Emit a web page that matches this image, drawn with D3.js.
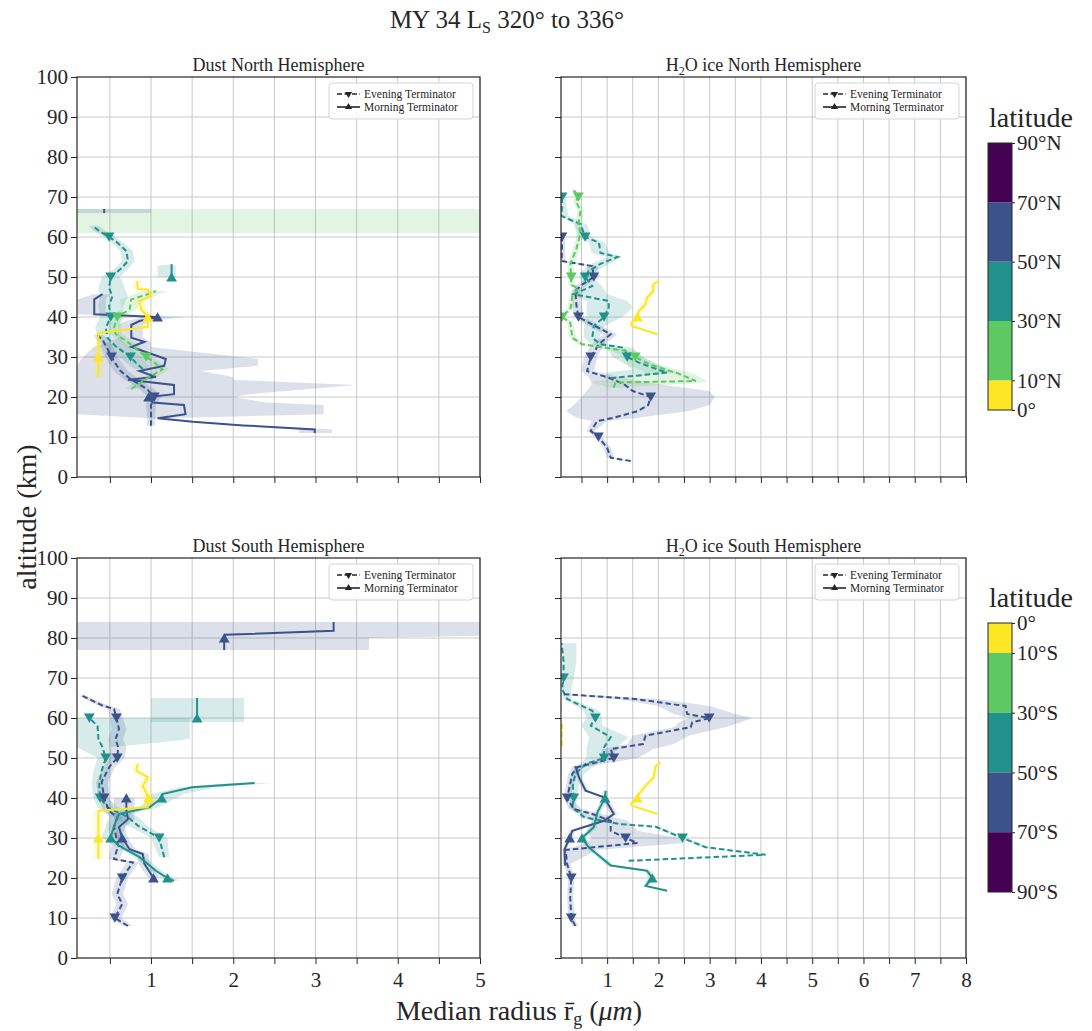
<!DOCTYPE html>
<html><head><meta charset="utf-8">
<script src="https://cdn.jsdelivr.net/npm/d3@7"></script>
<style>body{margin:0;background:#fff} svg text{font-family:'Liberation Serif','DejaVu Serif',serif}</style>
</head><body>
<svg id="fig" width="1092" height="1031"></svg>
<script>
// Latitude bins shared by both hemispheres (degrees from the equator) and their colours
const latEdges = [0, 10, 30, 50, 70, 90];
const latColors = ["#fde725", "#5ec962", "#21918c", "#3b528b", "#440154"];
const latLabelsN = ["0°", "10°N", "30°N", "50°N", "70°N", "90°N"];
const latLabelsS = ["0°", "10°S", "30°S", "50°S", "70°S", "90°S"];
const altTicks = [0, 10, 20, 30, 40, 50, 60, 70, 80, 90, 100];
const dustTicks = [1, 2, 3, 4, 5];
const iceTicks = [1, 2, 3, 4, 5, 6, 7, 8];

// Profiles: rows of [altitude km, median radius, lower bound, upper bound]
// ---- Dust, northern hemisphere ----
const dnYellowMorn = [[25,0.35,0.30,0.42],[27,0.36,0.31,0.42],[30,0.36,0.31,0.42],[33,0.36,0.32,0.40],[36,0.36,0.32,0.40],[37.5,0.96,0.90,1.02],[40,0.96,0.90,1.05],[42,0.88,0.82,0.95],[44,0.86,0.80,0.92],[45.2,1.00,0.94,1.06],[46.9,0.96,0.90,1.02],[47,0.84,0.78,0.90],[49,0.83,0.78,0.88]];
const dnGreenEve = [[22,0.76,0.68,0.85],[24.8,0.96,0.88,1.05],[26.9,1.14,1.05,1.22],[29,1.02,0.94,1.10],[30,0.94,0.86,1.02],[32,0.82,0.74,0.90],[34,0.70,0.62,0.78],[35.7,0.57,0.50,0.65],[37.3,0.55,0.48,0.63],[40,0.59,0.50,0.68],[41.9,0.74,0.64,0.82],[44.4,0.76,0.62,0.90],[45.7,0.96,0.80,1.10],[46.5,1.06,0.90,1.20]];
const dnGreenMorn = [[61,6.5,0.1,6.0],[67,6.5,0.1,6.0]];
const dnTealEve = [[27,0.90,0.80,1.00],[28.5,0.82,0.70,0.95],[30,0.75,0.62,0.88],[32.7,0.57,0.42,0.72],[34.8,0.47,0.35,0.62],[37.3,0.45,0.32,0.60],[40,0.51,0.38,0.65],[42.7,0.49,0.36,0.66],[45.2,0.53,0.38,0.72],[47.3,0.49,0.36,0.68],[50,0.51,0.40,0.62],[52,0.63,0.55,0.72],[54,0.72,0.65,0.80],[56.5,0.70,0.63,0.78],[58.6,0.59,0.52,0.66],[60,0.49,0.42,0.56],[61.5,0.37,0.30,0.45],[62.8,0.29,0.24,0.36]];
const dnTealMorn = [[50,1.25,1.08,1.30],[52.8,1.25,1.08,1.30],[53.2,1.25,1.25,1.25]];
const dnBlueEve = [[12.8,1.00,0.95,1.05],[15,1.00,0.95,1.05],[18,1.00,0.94,1.06],[20,1.04,0.96,1.12],[22,0.95,0.86,1.04],[24.5,0.75,0.66,0.85],[26.5,0.63,0.55,0.72],[28,0.58,0.50,0.66],[30,0.52,0.44,0.60],[32,0.47,0.40,0.55],[34,0.42,0.35,0.50],[35.5,0.35,0.30,0.42]];
const dnBlueMorn = [[11,2.99,2.80,3.20],[11.9,2.99,2.80,3.20],[12.9,2.12,2.05,2.20],[13.8,1.51,1.45,1.58],[14.7,1.08,1.00,1.15],[15.7,1.42,0.10,3.10],[18,1.40,0.10,3.10],[18.6,1.02,0.10,2.40],[20,0.97,0.10,2.00],[20.7,1.28,0.10,2.20],[23,1.28,0.10,3.50],[24.3,0.72,0.10,2.00],[25,1.06,0.10,2.00],[26.5,0.86,0.10,1.60],[27.8,1.16,0.10,2.30],[29.5,1.18,0.15,2.30],[32.5,0.76,0.30,1.00],[33.8,0.92,0.50,1.00],[34.8,0.76,0.60,0.90],[38,0.76,0.60,0.90],[39,0.86,0.70,1.00],[40,1.08,0.90,1.40],[40.7,0.31,0.10,0.45],[44.4,0.31,0.10,0.45],[45.7,0.41,0.30,0.50]];
const dnBlueMornTop = [[66,0.43,0.10,1.00],[67,0.43,0.10,1.00]];

// ---- H2O ice, northern hemisphere ----
const inGreenEve = [[22.3,1.13,1.05,1.25],[23.6,1.16,0.70,2.90],[24,2.73,0.75,2.95],[25.8,2.40,1.80,2.70],[28.2,1.82,1.40,2.00],[30,1.55,1.30,1.70],[31.5,1.39,1.10,1.55],[32.3,0.97,0.80,1.10],[33.2,0.51,0.42,0.60],[34.8,0.32,0.26,0.40],[38.6,0.28,0.22,0.34],[40,0.12,0.10,0.18],[42.3,0.29,0.23,0.35],[45.2,0.32,0.26,0.38],[47.2,0.44,0.36,0.50],[48,0.30,0.24,0.36],[50,0.30,0.24,0.36],[53.2,0.28,0.22,0.35],[57,0.40,0.33,0.47],[61,0.48,0.42,0.55],[63.2,0.44,0.38,0.50],[66.5,0.48,0.42,0.55],[69,0.39,0.33,0.46],[70,0.44,0.38,0.50],[71.7,0.35,0.30,0.42]];
const inTealEve = [[24.7,1.07,0.95,1.20],[26.1,2.17,1.00,2.40],[26.9,1.98,1.50,2.20],[28.6,1.62,1.30,1.90],[30,1.39,1.10,1.70],[32.3,1.33,1.00,1.50],[33.2,0.87,0.70,1.00],[34.8,0.71,0.55,0.85],[37.75,0.74,0.55,0.95],[40,0.94,0.60,1.30],[42.3,1.03,0.60,1.50],[44,1.03,0.60,1.40],[45.7,0.35,0.30,1.00],[47.75,0.71,0.55,0.90],[50,0.57,0.45,0.70],[51.5,0.64,0.50,0.78],[53.3,0.87,0.70,1.05],[55,1.20,1.00,1.30],[56,0.87,0.70,1.05],[58.6,0.84,0.65,0.95],[60,0.57,0.42,0.70],[63.2,0.48,0.35,0.60],[65.25,0.11,0.10,0.25],[68,0.12,0.10,0.20],[70,0.12,0.10,0.20],[70.7,0.12,0.10,0.20]];
const inBlueEve = [[4,1.46,1.40,1.52],[4.8,1.07,1.00,1.14],[7.3,1.00,0.93,1.07],[10,0.83,0.76,0.90],[11.5,0.68,0.60,0.76],[14,0.81,0.70,1.00],[14.8,1.13,0.40,1.60],[16.5,1.60,0.20,2.60],[18,1.80,0.35,3.00],[20,1.85,0.50,3.10],[21.5,1.50,0.60,3.00],[23.2,1.33,0.70,2.00],[24.8,1.03,0.65,1.30],[26.5,0.61,0.50,0.75],[30,0.68,0.55,0.80],[33.2,0.84,0.70,0.95],[35.7,1.07,0.95,1.20],[38.6,0.64,0.52,0.75],[40,0.44,0.35,0.55],[43,0.40,0.32,0.50],[46.5,0.38,0.30,0.48],[48,0.50,0.40,0.60],[50,0.74,0.62,0.85],[52.75,0.71,0.60,0.82],[54,0.11,0.10,0.18],[58,0.12,0.10,0.18],[60,0.12,0.10,0.18]];
const inYellowMorn = [[35.7,1.98,1.90,2.05],[37.75,1.48,1.42,1.55],[38.6,1.48,1.42,1.55],[40,1.59,1.52,1.66],[41.5,1.62,1.55,1.70],[43.2,1.75,1.68,1.82],[44.8,1.78,1.70,1.85],[46.5,1.90,1.83,1.97],[48.2,1.90,1.83,1.97],[49,2.00,1.93,2.07]];

// ---- Dust, southern hemisphere ----
const dsYellowMorn = [[24.75,0.36,0.30,0.42],[30,0.36,0.30,0.42],[36.8,0.36,0.30,0.42],[37.7,0.96,0.90,1.05],[40,0.97,0.90,1.05],[43,0.90,0.84,0.97],[45.2,0.96,0.90,1.03],[46.8,0.82,0.76,0.88],[48.5,0.84,0.78,0.90]];
const dsTealEve = [[25.2,1.16,1.10,1.22],[30,1.10,1.00,1.20],[33.1,0.84,0.72,0.95],[35.2,0.72,0.55,0.85],[37.7,0.47,0.35,0.60],[40,0.38,0.30,0.48],[43.5,0.37,0.28,0.48],[46.8,0.40,0.30,0.50],[50,0.45,0.35,0.55],[52.7,0.41,0.10,0.50],[53.9,0.38,0.10,1.10],[54.75,0.36,0.10,1.47],[58,0.35,0.10,1.47],[60,0.25,0.10,1.47]];
const dsTealMorn = [[19.3,1.28,1.22,1.35],[20,1.20,1.13,1.27],[21.8,1.06,1.00,1.13],[25.2,0.86,0.80,0.93],[28.1,0.61,0.55,0.68],[30,0.51,0.40,0.62],[33,0.55,0.45,0.70],[36,0.61,0.50,0.75],[37.7,0.98,0.85,1.10],[40,1.13,1.00,1.30],[41,1.14,1.00,1.40],[42.7,1.50,1.35,1.80],[43.75,2.26,2.00,2.48]];
const dsTealMornTop = [[59,1.56,1.00,2.13],[60,1.56,1.00,2.13],[65,1.56,1.00,2.13]];
const dsBlueEve = [[8,0.72,0.66,0.78],[10,0.56,0.50,0.64],[13.5,0.65,0.58,0.72],[16,0.59,0.52,0.66],[20,0.65,0.58,0.72],[23.9,0.78,0.70,0.85],[24.75,0.55,0.48,0.62],[28,0.60,0.52,0.68],[32.7,0.55,0.48,0.63],[35.2,0.59,0.50,0.66],[36.8,0.49,0.42,0.56],[40,0.43,0.36,0.50],[44,0.40,0.33,0.48],[47.7,0.49,0.42,0.56],[50,0.59,0.50,0.68],[52.7,0.60,0.50,0.70],[54.75,0.57,0.48,0.66],[57.25,0.61,0.52,0.70],[60,0.58,0.50,0.66],[62.25,0.55,0.48,0.62],[63.1,0.41,0.35,0.48],[65.6,0.16,0.12,0.20]];
const dsBlueMorn = [[20,1.03,0.96,1.10],[23.5,0.92,0.85,0.99],[26,0.90,0.83,0.97],[27.2,0.74,0.67,0.81],[30,0.65,0.58,0.72],[32.7,0.61,0.54,0.68],[34.75,0.72,0.55,0.80],[36.8,0.70,0.55,0.80],[40,0.70,0.55,0.80]];
const dsBlueMornTop = [[77,1.89,0.10,3.65],[80,1.89,0.10,3.65],[80.8,1.90,0.10,5.50],[81.8,3.22,0.10,5.50],[84,3.22,0.10,5.50]];

// ---- H2O ice, southern hemisphere ----
const isYellowEve = [[53,0.12,0.10,0.14],[59,0.12,0.10,0.14]];
const isYellowMorn = [[36,1.98,1.92,2.04],[38.1,1.48,1.42,1.54],[38.7,1.48,1.42,1.54],[40,1.59,1.53,1.65],[41,1.62,1.56,1.68],[43.1,1.75,1.69,1.81],[45.2,1.91,1.85,1.97],[48,1.95,1.89,2.01],[48.9,2.04,1.98,2.10]];
const isTealEve = [[24.3,1.42,1.38,1.46],[25.8,4.09,4.00,4.15],[27.7,2.92,2.85,3.00],[30,2.47,2.40,2.55],[32.8,1.95,1.88,2.02],[33.5,1.23,1.15,1.30],[35.2,0.55,0.48,0.62],[37.7,0.32,0.26,0.38],[40,0.35,0.28,0.42],[43,0.33,0.26,0.45],[46,0.38,0.30,0.55],[48.5,0.58,0.45,0.80],[50,0.94,0.60,1.10],[52.7,0.94,0.60,1.20],[55.2,1.07,0.65,1.42],[58.1,0.68,0.50,0.90],[60,0.77,0.60,0.90],[61.8,0.71,0.55,0.85],[64.75,0.22,0.15,0.30],[67.25,0.12,0.10,0.30],[70,0.15,0.10,0.35],[74.3,0.15,0.10,0.40],[78.7,0.11,0.10,0.40]];
const isTealMorn = [[16.8,2.17,2.12,2.22],[18,1.75,1.70,1.80],[20,1.88,1.80,1.95],[21.8,1.78,1.72,1.85],[23.1,1.07,1.00,1.14],[27.7,0.64,0.58,0.70],[30,0.51,0.45,0.58],[32.7,0.74,0.68,0.80],[36.4,0.81,0.75,0.88],[40,0.96,0.90,1.02],[41.8,0.97,0.92,1.02]];
const isBlueEve = [[8,0.38,0.32,0.44],[10,0.30,0.24,0.36],[15.2,0.28,0.22,0.34],[20,0.30,0.24,0.36],[23.5,0.22,0.16,0.28],[27,0.19,0.14,0.80],[28.75,1.59,0.60,2.50],[30,1.36,0.70,2.40],[31.8,1.07,0.60,1.60],[34.3,1.07,0.70,1.40],[36,0.71,0.50,0.90],[37.25,0.35,0.25,0.50],[40,0.22,0.15,0.30],[41.8,0.25,0.18,0.32],[46,0.32,0.24,0.40],[47.7,0.42,0.32,0.55],[50,1.13,0.90,1.60],[52.2,1.07,0.90,1.90],[53.5,1.70,1.40,2.30],[55.6,1.75,1.50,2.60],[57.7,2.63,2.30,3.30],[58.9,2.66,2.40,3.60],[60,2.99,2.60,3.83],[61,2.56,2.30,3.50],[63,2.53,2.00,3.00],[64.75,1.55,1.20,2.00],[66,0.11,0.10,0.20]];
const isBlueMorn = [[23.1,0.18,0.14,0.22],[27.2,0.17,0.13,0.21],[30,0.27,0.22,0.32],[31.8,0.32,0.26,0.38],[34.3,0.94,0.88,1.00],[36,1.13,1.06,1.20],[40.2,0.94,0.88,1.00],[41.8,0.58,0.52,0.64],[45.2,0.45,0.40,0.50],[48,0.38,0.33,0.43]];

// Panel definitions: latitude bin index (into latColors) and terminator for each profile
const panels = [
  {title: ["Dust North Hemisphere"], xmax: 5, ticks: dustTicks, left: 77, top: 77, right: 480, bottom: 477, yLabels: true, xLabels: false,
   series: [
     {rows: dnGreenMorn, bin: 1, eve: false}, {rows: dnBlueMornTop, bin: 3, eve: false},
     {rows: dnBlueMorn, bin: 3, eve: false}, {rows: dnBlueEve, bin: 3, eve: true},
     {rows: dnTealEve, bin: 2, eve: true}, {rows: dnTealMorn, bin: 2, eve: false},
     {rows: dnGreenEve, bin: 1, eve: true}, {rows: dnYellowMorn, bin: 0, eve: false}]},
  {title: ["H", "2", "O ice North Hemisphere"], xmax: 8, ticks: iceTicks, left: 561, top: 77, right: 966, bottom: 477, yLabels: false, xLabels: false,
   series: [
     {rows: inBlueEve, bin: 3, eve: true}, {rows: inTealEve, bin: 2, eve: true},
     {rows: inGreenEve, bin: 1, eve: true}, {rows: inYellowMorn, bin: 0, eve: false}]},
  {title: ["Dust South Hemisphere"], xmax: 5, ticks: dustTicks, left: 77, top: 558, right: 480, bottom: 958, yLabels: true, xLabels: true,
   series: [
     {rows: dsBlueMornTop, bin: 3, eve: false}, {rows: dsTealMornTop, bin: 2, eve: false},
     {rows: dsTealEve, bin: 2, eve: true}, {rows: dsBlueEve, bin: 3, eve: true},
     {rows: dsBlueMorn, bin: 3, eve: false}, {rows: dsTealMorn, bin: 2, eve: false},
     {rows: dsYellowMorn, bin: 0, eve: false}]},
  {title: ["H", "2", "O ice South Hemisphere"], xmax: 8, ticks: iceTicks, left: 561, top: 558, right: 966, bottom: 958, yLabels: false, xLabels: true,
   series: [
     {rows: isTealEve, bin: 2, eve: true}, {rows: isBlueEve, bin: 3, eve: true},
     {rows: isBlueMorn, bin: 3, eve: false}, {rows: isTealMorn, bin: 2, eve: false},
     {rows: isYellowMorn, bin: 0, eve: false}, {rows: isYellowEve, bin: 0, eve: true}]}
];

const FONT = "'Liberation Serif', 'DejaVu Serif', serif";
const INK = "#262626";
const svg = d3.select("#fig");
const defs = svg.append("defs");

const tri = d3.symbol().type(d3.symbolTriangle).size(50);

panels.forEach((p, i) => {
  const x = d3.scaleLinear().domain([0.1, p.xmax]).range([p.left, p.right]);
  const y = d3.scaleLinear().domain([0, 100]).range([p.bottom, p.top]);
  const g = svg.append("g");

  defs.append("clipPath").attr("id", "clip" + i).append("rect")
    .attr("x", p.left).attr("y", p.top).attr("width", p.right - p.left).attr("height", p.bottom - p.top);

  // grid every 0.5 µm and every 10 km
  const halfSteps = d3.range(0.5, p.xmax + 0.001, 0.5);
  g.append("g").selectAll("line").data(halfSteps).join("line")
    .attr("x1", d => x(d)).attr("x2", d => x(d)).attr("y1", p.top).attr("y2", p.bottom)
    .attr("stroke", "#c9c9c9").attr("stroke-width", 1);
  g.append("g").selectAll("line").data(altTicks.slice(1, -1)).join("line")
    .attr("y1", d => y(d)).attr("y2", d => y(d)).attr("x1", p.left).attr("x2", p.right)
    .attr("stroke", "#c9c9c9").attr("stroke-width", 1);

  const plot = g.append("g").attr("clip-path", `url(#clip${i})`);

  // uncertainty envelopes
  const area = d3.area().y(d => y(d[0])).x0(d => x(d[2])).x1(d => x(d[3]));
  p.series.forEach(s => {
    plot.append("path").attr("d", area(s.rows))
      .attr("fill", latColors[s.bin]).attr("fill-opacity", 0.18).attr("stroke", "none");
  });
  // median radius profiles
  const line = d3.line().y(d => y(d[0])).x(d => x(d[1]));
  p.series.forEach(s => {
    plot.append("path").attr("d", line(s.rows)).attr("fill", "none")
      .attr("stroke", latColors[s.bin]).attr("stroke-width", 2)
      .attr("stroke-dasharray", s.eve ? "5.5,3" : null);
  });
  // markers every 10 km
  p.series.forEach(s => {
    plot.selectAll(null).data(s.rows.filter(d => d[0] % 10 === 0)).join("path")
      .attr("d", tri)
      .attr("transform", d => `translate(${x(d[1])},${y(d[0]) + (s.eve ? -1.5 : 1.5)}) rotate(${s.eve ? 180 : 0})`)
      .attr("fill", latColors[s.bin]);
  });

  // axes
  const xAxis = d3.axisBottom(x).tickValues(halfSteps).tickSize(6).tickPadding(4)
    .tickFormat(d => (p.xLabels && Number.isInteger(d)) ? d : "");
  const yAxis = d3.axisLeft(y).tickValues(altTicks).tickSize(6).tickPadding(3)
    .tickFormat(d => p.yLabels ? d : "");
  const gx = g.append("g").attr("transform", `translate(0,${p.bottom})`).call(xAxis);
  const gy = g.append("g").attr("transform", `translate(${p.left},0)`).call(yAxis);
  [gx, gy].forEach(a => {
    a.attr("font-family", null).attr("font-size", null);
    a.select(".domain").remove();
    a.selectAll("line").attr("stroke", INK);
    a.selectAll("text").style("font-family", FONT).style("font-size", "21px").attr("fill", INK);
  });
  gx.selectAll("text").attr("dy", "0.9em");

  g.append("rect").attr("x", p.left).attr("y", p.top).attr("width", p.right - p.left).attr("height", p.bottom - p.top)
    .attr("fill", "none").attr("stroke", INK).attr("stroke-width", 1.2);

  // panel title
  const t = g.append("text").attr("x", (p.left + p.right) / 2).attr("y", p.top - 6)
    .attr("text-anchor", "middle").style("font-size", "18px").attr("fill", INK);
  if (p.title.length === 1) t.text(p.title[0]);
  else {
    t.append("tspan").text(p.title[0]);
    t.append("tspan").style("font-size", "12px").attr("dy", 4).text(p.title[1]);
    t.append("tspan").attr("dy", -4).text(p.title[2]);
  }

  // legend
  const lx = p.right - 151, ly = p.top + 6;
  const lg = g.append("g");
  lg.append("rect").attr("x", lx).attr("y", ly).attr("width", 144).attr("height", 36).attr("rx", 3)
    .attr("fill", "#fff").attr("fill-opacity", 0.85).attr("stroke", "#d5d5d5");
  [{label: "Evening Terminator", eve: true}, {label: "Morning Terminator", eve: false}].forEach((e, k) => {
    const yy = ly + 11 + k * 13;
    lg.append("line").attr("x1", lx + 8).attr("x2", lx + 31).attr("y1", yy).attr("y2", yy)
      .attr("stroke", INK).attr("stroke-width", 1.6).attr("stroke-dasharray", e.eve ? "5,2.5" : null);
    lg.append("path").attr("d", d3.symbol().type(d3.symbolTriangle).size(22))
      .attr("transform", `translate(${lx + 19.5},${yy}) rotate(${e.eve ? 180 : 0})`).attr("fill", INK);
    lg.append("text").attr("x", lx + 35).attr("y", yy + 4).style("font-size", "11.5px").attr("fill", INK).text(e.label);
  });
});

// colour bars
function colorbar(top, bottom, labels, north) {
  const cy = d3.scaleLinear().domain([0, 90]).range(north ? [bottom, top] : [top, bottom]);
  const cx0 = 988, cx1 = 1012;
  const g = svg.append("g");
  g.selectAll("rect.bin").data(latColors).join("rect").attr("class", "bin")
    .attr("x", cx0).attr("width", cx1 - cx0)
    .attr("y", (c, k) => Math.min(cy(latEdges[k]), cy(latEdges[k + 1])))
    .attr("height", (c, k) => Math.abs(cy(latEdges[k + 1]) - cy(latEdges[k])))
    .attr("fill", c => c);
  g.append("rect").attr("x", cx0).attr("y", top).attr("width", cx1 - cx0).attr("height", bottom - top)
    .attr("fill", "none").attr("stroke", INK).attr("stroke-width", 1);
  const ax = d3.axisRight(cy).tickValues(latEdges).tickSize(3).tickPadding(2).tickFormat((d, k) => labels[k]);
  const ga = g.append("g").attr("transform", `translate(${cx1},0)`).call(ax);
  ga.attr("font-family", null).attr("font-size", null);
  ga.select(".domain").remove();
  ga.selectAll("line").attr("stroke", INK);
  ga.selectAll("text").style("font-family", FONT).style("font-size", "21px").attr("fill", INK);
  g.append("text").attr("x", 1031).attr("y", top - 16).attr("text-anchor", "middle")
    .style("font-size", "28px").attr("fill", INK).text("latitude");
}
colorbar(143, 410, latLabelsN, true);
colorbar(623, 892, latLabelsS, false);

// figure title and shared axis labels
const title = svg.append("text").attr("x", 507).attr("y", 28).attr("text-anchor", "middle")
  .style("font-size", "25px").attr("fill", INK);
title.append("tspan").text("MY 34 L");
title.append("tspan").style("font-size", "16px").attr("dy", 5).text("S");
title.append("tspan").attr("dy", -5).text(" 320° to 336°");

svg.append("text").attr("transform", "translate(36,517) rotate(-90)").attr("text-anchor", "middle")
  .style("font-size", "28px").attr("fill", INK).text("altitude (km)");

const xl = svg.append("text").attr("x", 519).attr("y", 1020).attr("text-anchor", "middle")
  .style("font-size", "28px").attr("fill", INK);
xl.append("tspan").text("Median radius r\u0304");
xl.append("tspan").style("font-size", "18px").attr("dy", 5).text("g");
xl.append("tspan").attr("dy", -5).text(" (");
xl.append("tspan").style("font-style", "italic").text("μm");
xl.append("tspan").text(")");
</script>
</body></html>
